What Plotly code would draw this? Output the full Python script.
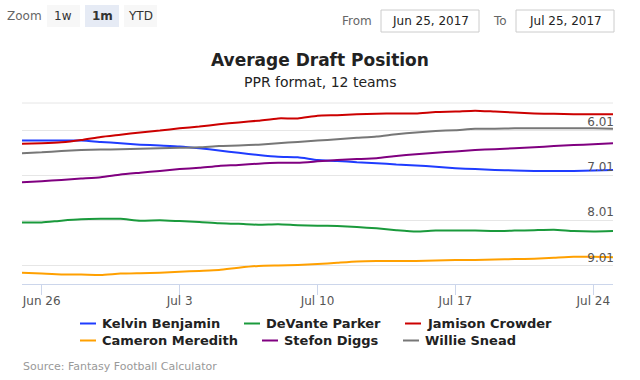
import plotly.graph_objects as go

dates = ["2017-06-25", "2017-06-26", "2017-06-27", "2017-06-28", "2017-06-29", "2017-06-30",
         "2017-07-01", "2017-07-02", "2017-07-03", "2017-07-04", "2017-07-05", "2017-07-06",
         "2017-07-07", "2017-07-08", "2017-07-09", "2017-07-10", "2017-07-11", "2017-07-12",
         "2017-07-13", "2017-07-14", "2017-07-15", "2017-07-16", "2017-07-17", "2017-07-18",
         "2017-07-19", "2017-07-20", "2017-07-21", "2017-07-22", "2017-07-23", "2017-07-24",
         "2017-07-25"]

kelvin_benjamin = [6.24, 6.24, 6.24, 6.24, 6.27, 6.30, 6.33, 6.35, 6.37, 6.41,
                   6.46, 6.51, 6.56, 6.60, 6.61, 6.67, 6.69, 6.72, 6.74, 6.77,
                   6.79, 6.82, 6.85, 6.87, 6.89, 6.90, 6.91, 6.91, 6.91, 6.90, 6.89]
devante_parker = [8.05, 8.05, 8.01, 7.98, 7.97, 7.97, 8.01, 8.00, 8.02, 8.04,
                  8.07, 8.08, 8.10, 8.09, 8.11, 8.12, 8.13, 8.15, 8.18, 8.22,
                  8.25, 8.23, 8.23, 8.23, 8.24, 8.23, 8.22, 8.21, 8.24, 8.25, 8.24]
jamison_crowder = [6.31, 6.30, 6.28, 6.23, 6.16, 6.11, 6.06, 6.02, 5.97, 5.93,
                   5.88, 5.84, 5.80, 5.75, 5.75, 5.69, 5.68, 5.66, 5.65, 5.64,
                   5.64, 5.61, 5.60, 5.58, 5.60, 5.62, 5.64, 5.65, 5.66, 5.66, 5.66]
cameron_meredith = [9.16, 9.18, 9.20, 9.20, 9.21, 9.18, 9.17, 9.16, 9.14, 9.12,
                    9.10, 9.05, 9.01, 9.00, 8.99, 8.97, 8.94, 8.91, 8.90, 8.90,
                    8.90, 8.89, 8.88, 8.88, 8.87, 8.86, 8.85, 8.83, 8.81, 8.81, 8.82]
stefon_diggs = [7.16, 7.14, 7.11, 7.08, 7.05, 6.99, 6.95, 6.91, 6.87, 6.84,
                6.80, 6.78, 6.75, 6.73, 6.73, 6.70, 6.67, 6.65, 6.63, 6.58,
                6.54, 6.51, 6.48, 6.45, 6.43, 6.41, 6.39, 6.36, 6.34, 6.32, 6.30]
willie_snead = [6.52, 6.50, 6.47, 6.45, 6.44, 6.43, 6.42, 6.41, 6.40, 6.39,
                6.36, 6.35, 6.33, 6.30, 6.27, 6.24, 6.21, 6.18, 6.15, 6.10,
                6.06, 6.03, 6.01, 5.98, 5.98, 5.97, 5.97, 5.97, 5.97, 5.97, 5.98]

series_names = ["Kelvin Benjamin", "DeVante Parker", "Jamison Crowder",
                "Cameron Meredith", "Stefon Diggs", "Willie Snead"]
series_values = [kelvin_benjamin, devante_parker, jamison_crowder,
                 cameron_meredith, stefon_diggs, willie_snead]
series_colors = ["#1f3cff", "#1a9a3c", "#cc0000", "#ffa000", "#800080", "#777777"]

y_tick_values = [5.41, 6.01, 7.01, 8.01, 9.01]
y_tick_labels = ["", "6.01", "7.01", "8.01", "9.01"]
x_tick_values = ["2017-06-26", "2017-07-03", "2017-07-10", "2017-07-17", "2017-07-24"]

FONT = "DejaVu Sans"
W, H = 640, 380
L, R, T, B = 22, 613, 103, 284
PW, PH = R - L, B - T


def px(x):
    return (x - L) / PW


def py(y):
    return (B - y) / PH


fig = go.Figure()
for name, vals, col in zip(series_names, series_values, series_colors):
    fig.add_trace(go.Scatter(x=dates, y=vals, name=name, mode="lines",
                             line=dict(color=col, width=2, shape="spline", smoothing=0.5),
                             showlegend=False))

shapes = []
annotations = []

# Top gridline at plot top
shapes.append(dict(type="line", xref="paper", yref="paper", x0=0, x1=1, y0=1, y1=1,
                   line=dict(color="#e6e6e6", width=1), layer="below"))

# Title / subtitle
annotations.append(dict(text="<b>Average Draft Position</b>", x=px(320), y=py(60),
                        xref="paper", yref="paper", showarrow=False, xanchor="center", yanchor="middle",
                        font=dict(family=FONT, size=17, color="#222222")))
annotations.append(dict(text="PPR format, 12 teams", x=px(320), y=py(82),
                        xref="paper", yref="paper", showarrow=False, xanchor="center", yanchor="middle",
                        font=dict(family=FONT, size=14, color="#222222")))

# Legend (manual, to match the short line symbols)
legend_pos = [(80, 323.5), (244, 323.5), (405, 323.5),
              (80, 340.5), (262, 340.5), (403, 340.5)]
for (lx, ly), name, col in zip(legend_pos, series_names, series_colors):
    shapes.append(dict(type="line", xref="paper", yref="paper", x0=px(lx), x1=px(lx + 16),
                       y0=py(ly), y1=py(ly), line=dict(color=col, width=2)))
    annotations.append(dict(text="<b>%s</b>" % name, x=px(lx + 20), y=py(ly), xref="paper", yref="paper",
                            showarrow=False, xanchor="left", yanchor="middle",
                            font=dict(family=FONT, size=13, color="#222222")))

# Credits
annotations.append(dict(text="Source: Fantasy Football Calculator", x=px(21), y=py(366),
                        xref="paper", yref="paper", showarrow=False, xanchor="left", yanchor="middle",
                        font=dict(family=FONT, size=11, color="#999999")))

# Range selector look-alike
annotations.append(dict(text="Zoom", x=px(24), y=py(16), xref="paper", yref="paper", showarrow=False,
                        xanchor="center", yanchor="middle", font=dict(family=FONT, size=12, color="#666666")))
buttons = [("1w", 47, 80, "#f7f7f7", False), ("1m", 85, 119, "#e6ebf5", True), ("YTD", 124, 157, "#f7f7f7", False)]
for txt, x0, x1, fill, sel in buttons:
    shapes.append(dict(type="rect", xref="paper", yref="paper", x0=px(x0), x1=px(x1), y0=py(27), y1=py(5),
                       fillcolor=fill, line=dict(width=0)))
    annotations.append(dict(text=("<b>%s</b>" % txt) if sel else txt, x=px((x0 + x1) / 2), y=py(16),
                            xref="paper", yref="paper", showarrow=False, xanchor="center", yanchor="middle",
                            font=dict(family=FONT, size=12, color="#333333")))

annotations.append(dict(text="From", x=px(357), y=py(21), xref="paper", yref="paper", showarrow=False,
                        xanchor="center", yanchor="middle", font=dict(family=FONT, size=12, color="#666666")))
annotations.append(dict(text="To", x=px(500), y=py(21), xref="paper", yref="paper", showarrow=False,
                        xanchor="center", yanchor="middle", font=dict(family=FONT, size=12, color="#666666")))
for txt, x0, x1 in [("Jun 25, 2017", 381, 479), ("Jul 25, 2017", 516, 614)]:
    shapes.append(dict(type="rect", xref="paper", yref="paper", x0=px(x0), x1=px(x1), y0=py(32), y1=py(10),
                       fillcolor="#ffffff", line=dict(color="#cccccc", width=1)))
    annotations.append(dict(text=txt, x=px((x0 + x1) / 2), y=py(21), xref="paper", yref="paper",
                            showarrow=False, xanchor="center", yanchor="middle",
                            font=dict(family=FONT, size=12, color="#222222")))

fig.update_layout(
    width=W, height=H,
    margin=dict(l=L, r=W - R, t=T, b=H - B, pad=0),
    paper_bgcolor="white", plot_bgcolor="white",
    font=dict(family=FONT, color="#333333"),
    showlegend=False,
    hovermode=False,
    shapes=shapes,
    annotations=annotations,
    xaxis=dict(type="date", range=["2017-06-25", "2017-07-25"],
               tickvals=x_tick_values, tickformat="%b %-d",
               showgrid=False, zeroline=False,
               showline=True, linecolor="#ccd6eb", linewidth=1,
               ticks="outside", ticklen=10, tickcolor="#ccd6eb", tickwidth=1,
               ticklabeloverflow="allow", ticklabelstandoff=-4,
               tickfont=dict(family=FONT, size=12, color="#555555")),
    yaxis=dict(range=[9.41, 5.41], autorange=False,
               tickvals=y_tick_values, ticktext=y_tick_labels,
               side="right", ticklabelposition="inside top",
               ticklabelstandoff=-4, ticklabeloverflow="allow",
               showgrid=True, gridcolor="#e6e6e6", gridwidth=1,
               zeroline=False, showline=False, ticks="",
               tickfont=dict(family=FONT, size=12, color="#555555")),
)

fig.write_html("out.html", config={"displayModeBar": False},
               post_script="document.body.style.margin='0px';")
